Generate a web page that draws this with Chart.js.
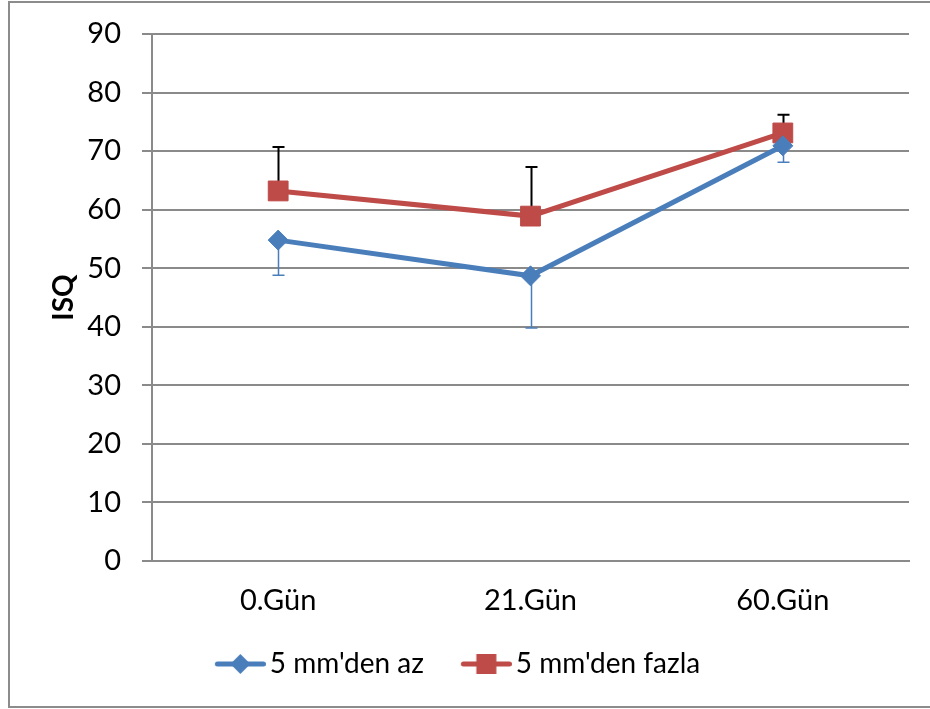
<!DOCTYPE html>
<html>
<head>
<meta charset="utf-8">
<script src="https://cdn.jsdelivr.net/npm/chart.js@4"></script>
<style>
	body { margin: 0; background: #fff; }
	#wrap { width: 930px; height: 709px; }
</style>
</head>
<body>
<div id="wrap"><canvas id="chart" width="930" height="709"></canvas></div>
<script>
const days = ["0.Gün", "21.Gün", "60.Gün"];
const lessThan5 = [54.8, 48.7, 70.9];
const moreThan5 = [63.2, 58.9, 73.1];
// error bar lengths read from the whiskers
const lessThan5Err = [6.0, 8.9, 2.8];   // drawn downward
const moreThan5Err = [7.5, 8.4, 3.1];   // drawn upward
const yTicks = [0, 10, 20, 30, 40, 50, 60, 70, 80, 90];

const BLUE = "#4a7ebb";
const RED = "#be4b48";
const GRID = "#8a8a8a";
const FONT = "Lato, 'Open Sans', sans-serif";

// line+marker swatch for the legend; left part is transparent spacing
const makeSwatch = (color, shape) => {
	const c = document.createElement("canvas");
	c.width = 67;
	c.height = 22;
	const g = c.getContext("2d");
	g.strokeStyle = color;
	g.lineWidth = 5;
	g.lineCap = "round";
	g.beginPath();
	g.moveTo(18.5, 11);
	g.lineTo(64.5, 11);
	g.stroke();
	g.fillStyle = color;
	if (shape === "diamond") {
		g.beginPath();
		g.moveTo(41.5, 1);
		g.lineTo(51.5, 11);
		g.lineTo(41.5, 21);
		g.lineTo(31.5, 11);
		g.closePath();
		g.fill();
	} else {
		g.fillRect(31.5, 1, 20, 20);
	}
	return c;
};
const swatches = [makeSwatch(BLUE, "diamond"), makeSwatch(RED, "square")];

const errorBars = {
	id: "errorBars",
	beforeDatasetsDraw(chart) {
		const { ctx, scales } = chart;
		const bars = [
			{ vals: lessThan5, err: lessThan5Err, dir: -1, color: BLUE, w: 1.5 },
			{ vals: moreThan5, err: moreThan5Err, dir: 1, color: "#000", w: 2 },
		];
		ctx.save();
		bars.forEach(b => {
			ctx.strokeStyle = b.color;
			ctx.lineWidth = b.w;
			b.vals.forEach((v, i) => {
				const x = Math.round(scales.x.getPixelForValue(i)) + 0.5;
				const y0 = scales.y.getPixelForValue(v);
				const y1 = scales.y.getPixelForValue(v + b.dir * b.err[i]);
				ctx.beginPath();
				ctx.moveTo(x, y0);
				ctx.lineTo(x, y1);
				ctx.moveTo(x - 6, y1);
				ctx.lineTo(x + 6, y1);
				ctx.stroke();
			});
		});
		ctx.restore();
	},
};

const outerBorder = {
	id: "outerBorder",
	afterDraw(chart) {
		const { ctx } = chart;
		ctx.save();
		ctx.strokeStyle = "#8c8c8c";
		ctx.lineWidth = 2;
		ctx.strokeRect(9, 2, 940, 705);
		ctx.restore();
	},
};

new Chart(document.getElementById("chart"), {
	type: "line",
	plugins: [errorBars, outerBorder],
	data: {
		labels: days,
		datasets: [
			{
				label: "5 mm'den az",
				data: lessThan5,
				borderColor: BLUE,
				backgroundColor: BLUE,
				borderWidth: 5,
				pointStyle: "rectRot",
				pointRadius: 10,
				pointBorderWidth: 1,
				pointBackgroundColor: BLUE,
				pointBorderColor: BLUE,
			},
			{
				label: "5 mm'den fazla",
				data: moreThan5,
				borderColor: RED,
				backgroundColor: RED,
				borderWidth: 5,
				pointStyle: "rect",
				pointRadius: 14,
				pointBorderWidth: 1,
				pointBackgroundColor: RED,
				pointBorderColor: RED,
			},
		],
	},
	options: {
		responsive: false,
		animation: false,
		events: [],
		layout: { padding: { left: 0, right: 21, top: 34, bottom: 21 } },
		scales: {
			x: {
				offset: true,
				grid: { display: false, drawTicks: false },
				border: { display: true, color: GRID, width: 2 },
				ticks: { color: "#000", font: { family: FONT, size: 29 }, padding: 22, maxRotation: 0 },
				afterFit: scale => { scale.height = 58; },
			},
			y: {
				min: 0,
				max: 90,
				afterBuildTicks: scale => { scale.ticks = yTicks.map(v => ({ value: v })); },
				grid: { color: GRID, lineWidth: 2, tickLength: 10 },
				border: { display: true, color: GRID, width: 2 },
				ticks: { color: "#000", font: { family: FONT, size: 29 }, padding: 21 },
				title: {
					display: true,
					text: "ISQ",
					color: "#000",
					font: { family: FONT, size: 28, weight: "bold" },
					padding: { top: 47, bottom: 0 },
				},
				afterFit: scale => {
					scale.width = 152;
					scale.paddingTop = 0;
					scale.paddingBottom = 0;
				},
			},
		},
		plugins: {
			tooltip: { enabled: false },
			legend: {
				position: "bottom",
				labels: {
					color: "#000",
					font: { family: FONT, size: 28 },
					usePointStyle: true,
					pointStyleWidth: 47,
					padding: 31,
					generateLabels: chart =>
						Chart.defaults.plugins.legend.labels
							.generateLabels(chart)
							.map((item, i) => ({ ...item, pointStyle: swatches[i] })),
				},
			},
		},
	},
});
</script>
</body>
</html>
